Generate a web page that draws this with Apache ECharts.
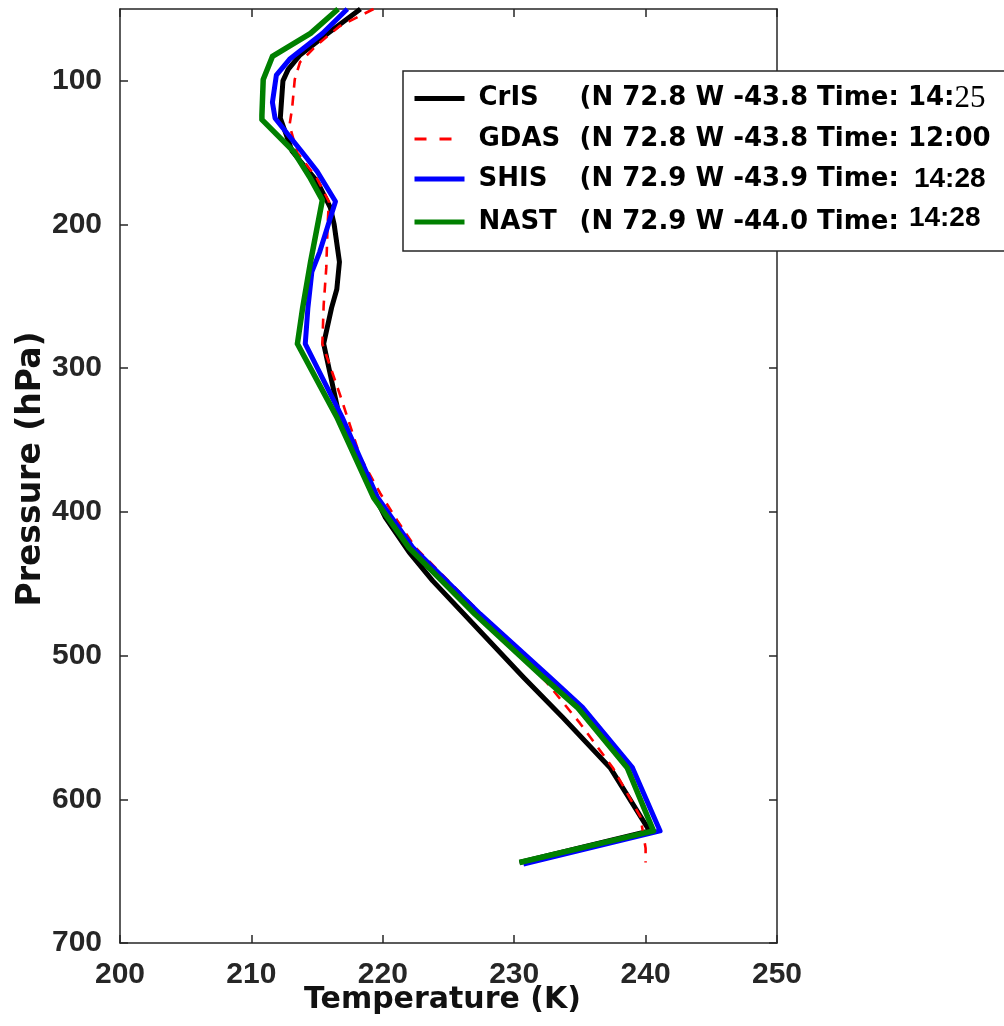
<!DOCTYPE html>
<html>
<head>
<meta charset="utf-8">
<script src="https://cdn.jsdelivr.net/npm/echarts@6/dist/echarts.min.js"></script>
<style>
html,body{margin:0;padding:0;background:#fff;}
#chart{width:1004px;height:1026px;}
</style>
</head>
<body>
<div id="chart"></div>
<script>
// ---- data: [Temperature (K), Pressure (hPa)] ----
var crisData = [[218.3,50],[215.8,67],[213.7,82],[212.8,92],[212.4,100],[212.2,126],[213.1,149],[215.0,170],[216.0,188],[216.3,200],[216.7,226],[216.5,245],[216.1,258],[215.5,283],[216.7,334],[218.9,380],[220.2,404],[222.0,428],[223.8,448],[227.3,482],[230.7,515],[233.7,543],[237.3,578],[240.3,622],[230.4,644]];
var gdasData = [[219.3,50],[216.7,62],[215.0,75],[213.7,87],[213.3,99],[213.1,119],[212.9,131],[213.5,150],[215.0,168],[215.9,184],[215.8,200],[215.7,230],[215.5,256],[215.4,283],[216.8,320],[218.3,362],[219.8,387],[221.1,406],[222.5,425],[227.5,471],[232.5,519],[235.0,547],[237.5,578],[239.6,612],[240.0,634],[240.0,644]];
var shisData = [[217.3,50],[215.4,67],[212.9,85],[211.9,96],[211.6,115],[211.8,126],[213.9,150],[215.0,163],[216.4,184],[215.2,219],[214.6,233],[214.3,258],[214.1,283],[216.9,334],[219.6,390],[222.3,425],[227.4,471],[232.7,515],[235.2,536],[239.0,578],[241.1,622],[230.7,645]];
var nastData = [[216.6,50],[214.5,67],[211.6,83],[210.9,99],[210.8,124],[210.8,127],[213.2,149],[214.5,168],[215.4,183],[214.5,226],[213.9,258],[213.5,283],[216.5,334],[219.3,390],[222.0,425],[227.0,471],[232.2,515],[234.8,536],[238.6,578],[240.6,622],[230.4,644]];

var xTicks = [200,210,220,230,240,250];
var yTicks = [100,200,300,400,500,600,700];

var seriesNames = ['CrIS','GDAS','SHIS','NAST'];
var legendInfo = ['(N 72.8 W -43.8 Time: 14:','(N 72.8 W -43.8 Time: 12:00','(N 72.9 W -43.9 Time: ','(N 72.9 W -44.0 Time:'];
var legendTail = ['25','','14:28','14:28'];
var tailStyle = ['t1','','t2','t3'];

var chart = echarts.init(document.getElementById('chart'), null, {renderer:'canvas'});
var axisCol = '#262626';

function mkX(pos, showLabel){
  return {
    type:'value', position:pos, min:200, max:250, interval:10,
    axisLine:{show:true, onZero:false, lineStyle:{color:axisCol, width:1.5}},
    axisTick:{show:true, inside:true, length:8, lineStyle:{color:axisCol, width:1.5}},
    splitLine:{show:false},
    axisLabel:{show:showLabel, color:axisCol, fontFamily:'Liberation Sans', fontWeight:'bold', fontSize:30, margin:17},
    name: showLabel ? 'Temperature (K)' : '',
    nameLocation:'middle', nameGap:42, nameMoveOverlap:false,
    nameTextStyle:{color:'#111', fontFamily:'DejaVu Sans', fontWeight:'bold', fontSize:30, padding:[0,12,0,0]}
  };
}
function mkY(pos, showLabel){
  return {
    type:'value', position:pos, min:50, max:700, inverse:true,
    axisLine:{show:true, onZero:false, lineStyle:{color:axisCol, width:1.5}},
    axisTick:{show:true, inside:true, length:8, customValues:yTicks, lineStyle:{color:axisCol, width:1.5}},
    splitLine:{show:false},
    axisLabel:{show:showLabel, customValues:yTicks, color:axisCol, fontFamily:'Liberation Sans', fontWeight:'bold', fontSize:30, margin:18},
    name: showLabel ? 'Pressure (hPa)' : '',
    nameLocation:'middle', nameGap:72, nameMoveOverlap:false,
    nameTextStyle:{color:'#111', fontFamily:'DejaVu Sans', fontWeight:'bold', fontSize:33, padding:[0,0,0,14]}
  };
}

var colors = ['#000000','#ff0000','#0000ff','#008000'];
var widths = [5, 2.6, 5, 5.5];
var datas = [crisData, gdasData, shisData, nastData];
var series = seriesNames.map(function(n,i){
  var dashed = (n==='GDAS');
  return {
    name:n, type:'line', data:datas[i], xAxisIndex:0, yAxisIndex:0,
    showSymbol:false, symbol:'none', smooth:false, animation:false,
    lineStyle:{color:colors[i], width:widths[i], type: dashed?[10,8]:'solid', cap:'butt', join:'round'},
    itemStyle:{color:colors[i]},
    z: 2+i
  };
});

var option = {
  backgroundColor:'#fff',
  animation:false,
  grid:{left:120, right:227, top:9, bottom:83, containLabel:false, outerBoundsMode:'none'},
  xAxis:[mkX('bottom', true), mkX('top', false)],
  yAxis:[mkY('left', true), mkY('right', false)],
  legend:{
    show:true, orient:'vertical', left:403, top:71,
    data:seriesNames.map(function(n,i){
      return {name:n,
        itemStyle:{opacity:0, color:'rgba(0,0,0,0)', borderWidth:0},
        lineStyle:{color:colors[i], width:(n==='GDAS'?3:5), type:(n==='GDAS'?[12,13]:'solid'), cap:'butt'}};
    }),
    itemWidth:50, itemHeight:20, itemGap:10,
    padding:[12,80,14,9],
    backgroundColor:'#fff', borderColor:axisCol, borderWidth:1.5,
    formatter:function(name){
      var i = seriesNames.indexOf(name);
      var s = '{n|' + name + '}{i|' + legendInfo[i] + '}';
      if (legendTail[i]) s += '{' + tailStyle[i] + '|' + legendTail[i] + '}';
      return s;
    },
    textStyle:{
      color:'#000', fontFamily:'DejaVu Sans', fontWeight:'bold', fontSize:26, lineHeight:30,
      rich:{
        n:{width:101, padding:[0,0,0,9], fontFamily:'DejaVu Sans', fontWeight:'bold', fontSize:26, color:'#000'},
        i:{fontFamily:'DejaVu Sans', fontWeight:'bold', fontSize:26, color:'#000'},
        t1:{fontFamily:'Liberation Serif', fontWeight:'normal', fontSize:31, color:'#000'},
        t2:{fontFamily:'Liberation Sans', fontWeight:'bold', fontSize:28, color:'#000', padding:[0,0,0,6]},
        t3:{fontFamily:'Liberation Sans', fontWeight:'bold', fontSize:28, color:'#000', padding:[0,0,8,10]}
      }
    }
  },
  series:series
};
chart.setOption(option);
</script>
</body>
</html>
